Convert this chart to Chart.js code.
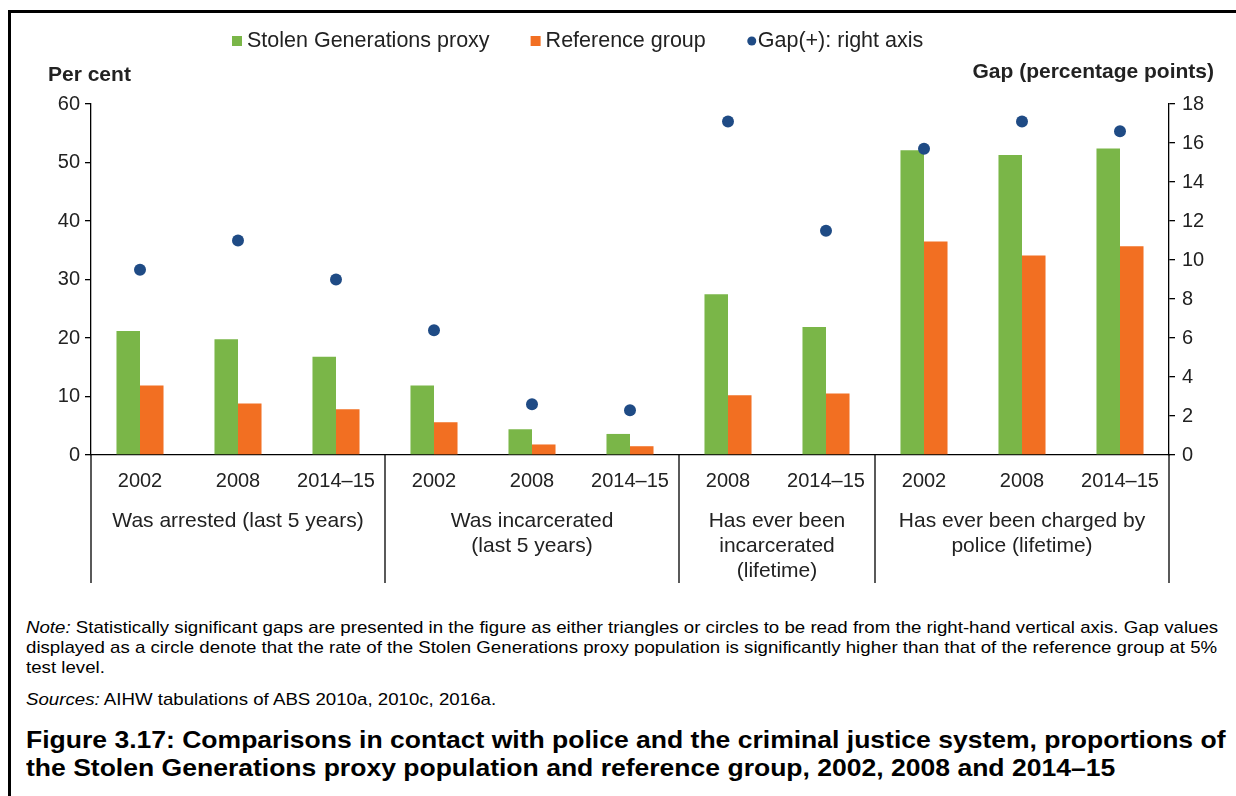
<!DOCTYPE html>
<html>
<head>
<meta charset="utf-8">
<script src="https://cdn.jsdelivr.net/npm/chart.js@4.4.0/dist/chart.umd.min.js"></script>
<style>
  body { margin: 0; background: #fff; font-family: "Liberation Sans", Arial, sans-serif; }
  #frame { position: absolute; left: 8px; top: 10px; width: 1240px; height: 800px;
           border-left: 3px solid #000; border-top: 3px solid #000; }
  #wrap { position: absolute; left: 0; top: 0; width: 1236px; height: 600px; }
  .txt { position: absolute; left: 26px; color: #000; white-space: nowrap; transform-origin: left top; }
  .note { font-size: 17px; line-height: 20px; transform: scaleX(1.098); }
  .title { font-size: 24px; line-height: 28px; font-weight: bold; transform: scaleX(1.105); }
</style>
</head>
<body>
<div id="frame"></div>
<div id="wrap"><canvas id="chart"></canvas></div>

<div class="txt note" style="top:618px"><i>Note:</i> Statistically significant gaps are presented in the figure as either triangles or circles to be read from the right-hand vertical axis. Gap values<br>displayed as a circle denote that the rate of the Stolen Generations proxy population is significantly higher than that of the reference group at 5%<br>test level.</div>
<div class="txt note" style="top:690px"><i>Sources:</i> AIHW tabulations of ABS 2010a, 2010c, 2016a.</div>
<div class="txt title" style="top:726px">Figure 3.17: Comparisons in contact with police and the criminal justice system, proportions of<br>the Stolen Generations proxy population and reference group, 2002, 2008 and 2014–15</div>

<script>
// datos
const years = ['2002', '2008', '2014–15', '2002', '2008', '2014–15', '2008', '2014–15', '2002', '2008', '2014–15'];
const groupLabels = [
  ['Was arrested (last 5 years)'],
  ['Was incarcerated', '(last 5 years)'],
  ['Has ever been', 'incarcerated', '(lifetime)'],
  ['Has ever been charged by', 'police (lifetime)']
];
const groupSizes = [3, 3, 2, 3];
const stolenGen = [21.2, 19.8, 16.8, 11.9, 4.4, 3.6, 27.5, 21.9, 52.1, 51.3, 52.4];
const referenceGroup = [11.9, 8.8, 7.8, 5.6, 1.8, 1.5, 10.2, 10.5, 36.5, 34.1, 35.7];
const gap = [9.5, 11.0, 9.0, 6.4, 2.6, 2.3, 17.1, 11.5, 15.7, 17.1, 16.6];

const FONT = '"Liberation Sans", Arial, sans-serif';
const GREEN = '#7ab648', ORANGE = '#f26f22', NAVY = '#1f4b85';

// leyenda, títulos de ejes y grupos de categorías
const overlay = {
  id: 'overlay',
  afterDraw(chart) {
    const { ctx, chartArea: a, scales: { x } } = chart;
    const half = (x.getPixelForTick(1) - x.getPixelForTick(0)) / 2;
    ctx.save();

    // separadores de grupo
    ctx.strokeStyle = '#000';
    ctx.lineWidth = 1.3;
    let idx = 0;
    const bounds = [0];
    groupSizes.forEach(n => { idx += n; bounds.push(idx); });
    bounds.forEach(b => {
      const px = b < years.length ? x.getPixelForTick(b) - half : x.getPixelForTick(b - 1) + half;
      ctx.beginPath();
      ctx.moveTo(px, a.bottom);
      ctx.lineTo(px, 583);
      ctx.stroke();
    });

    // etiquetas de grupo
    ctx.fillStyle = '#222';
    ctx.font = '21px ' + FONT;
    ctx.textAlign = 'center';
    ctx.textBaseline = 'middle';
    let start = 0;
    groupSizes.forEach((n, g) => {
      const cx = (x.getPixelForTick(start) + x.getPixelForTick(start + n - 1)) / 2;
      groupLabels[g].forEach((line, k) => ctx.fillText(line, cx, 521 + k * 25));
      start += n;
    });

    // títulos de ejes
    ctx.font = 'bold 21px ' + FONT;
    ctx.textAlign = 'left';
    ctx.fillText('Per cent', 48, 75);
    ctx.textAlign = 'right';
    ctx.fillText('Gap (percentage points)', 1214, 72);

    // leyenda
    ctx.font = '21.5px ' + FONT;
    ctx.textAlign = 'left';
    let lx = 232;
    const ly = 41;
    chart.data.datasets.forEach(ds => {
      ctx.fillStyle = ds.type === 'line' ? ds.pointBackgroundColor : ds.backgroundColor;
      if (ds.type === 'line') {
        ctx.beginPath();
        ctx.arc(lx + 5, ly, 4.5, 0, Math.PI * 2);
        ctx.fill();
        lx += 11;
      } else {
        ctx.fillRect(lx, ly - 5, 10, 10);
        lx += 15;
      }
      ctx.fillStyle = '#222';
      ctx.fillText(ds.label, lx, ly);
      lx += ctx.measureText(ds.label).width + 41;
    });
    ctx.restore();
  }
};

const axisGrid = { drawOnChartArea: false, drawTicks: true, tickLength: 6, color: '#000', lineWidth: 1.3 };
const axisBorder = { display: true, color: '#000', width: 1.3 };

new Chart(document.getElementById('chart'), {
  type: 'bar',
  data: {
    labels: years,
    datasets: [
      { label: 'Stolen Generations proxy', data: stolenGen, backgroundColor: GREEN, yAxisID: 'y',
        categoryPercentage: 0.48, barPercentage: 1.0 },
      { label: 'Reference group', data: referenceGroup, backgroundColor: ORANGE, yAxisID: 'y',
        categoryPercentage: 0.48, barPercentage: 1.0 },
      { type: 'line', label: 'Gap(+): right axis', data: gap, yAxisID: 'y1', showLine: false,
        pointRadius: 6, pointBackgroundColor: NAVY, pointBorderWidth: 0, order: -1 }
    ]
  },
  options: {
    responsive: true,
    maintainAspectRatio: false,
    animation: false,
    layout: { padding: { top: 104, left: 0, right: 0, bottom: 0 } },
    plugins: { legend: { display: false }, tooltip: { enabled: false } },
    scales: {
      x: {
        offset: true,
        grid: { display: false, drawTicks: false },
        border: axisBorder,
        ticks: { font: { family: FONT, size: 20 }, color: '#222', padding: 14, maxRotation: 0, autoSkip: false },
        afterFit(s) { s.height = 145; }
      },
      y: {
        position: 'left',
        min: 0, max: 60,
        grid: axisGrid,
        border: axisBorder,
        ticks: { stepSize: 10, font: { family: FONT, size: 20 }, color: '#222', padding: 5 },
        afterFit(s) { s.width = 91; }
      },
      y1: {
        position: 'right',
        min: 0, max: 18,
        grid: axisGrid,
        border: axisBorder,
        ticks: { stepSize: 2, font: { family: FONT, size: 20 }, color: '#222', padding: 7 },
        afterFit(s) { s.width = 67; }
      }
    }
  },
  plugins: [overlay]
});
</script>
</body>
</html>
